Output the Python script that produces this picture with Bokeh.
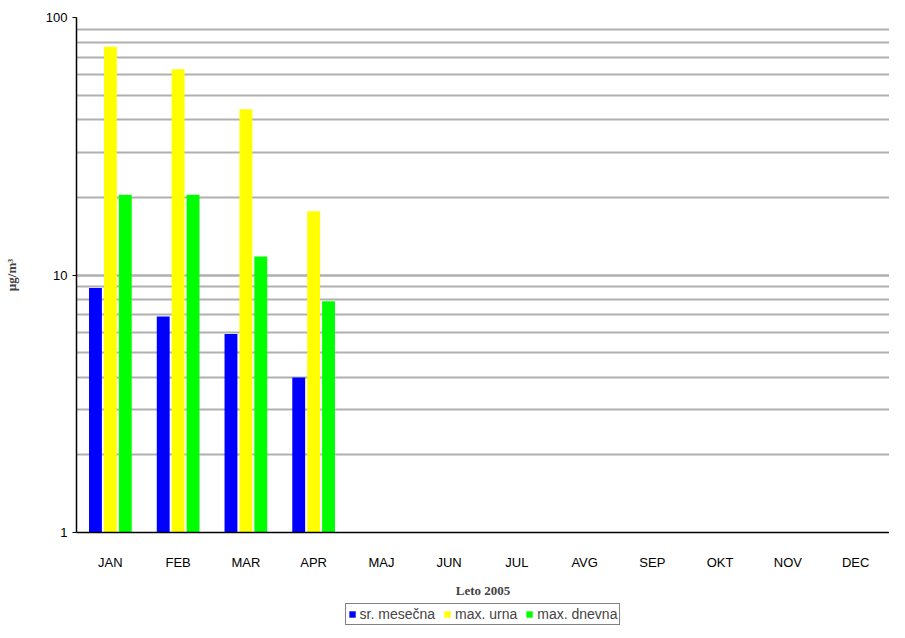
from bokeh.plotting import figure
from bokeh.layouts import column
from bokeh.models import ColumnDataSource, Legend, LegendItem, LogTicker, PrintfTickFormatter
from bokeh.transform import dodge
from bokeh.embed import file_html
from bokeh.resources import INLINE

months = ["JAN", "FEB", "MAR", "APR", "MAJ", "JUN", "JUL", "AVG", "SEP", "OKT", "NOV", "DEC"]
sr_mesecna = [8.9, 6.9, 5.9, 4.0]
max_urna = [77, 63, 44, 17.7]
max_dnevna = [20.5, 20.5, 11.8, 7.9]
series = ["sr. mesečna", "max. urna", "max. dnevna"]
colors = ["#0000ff", "#ffff00", "#00ff00"]

src = ColumnDataSource(dict(m=months[:4], a=sr_mesecna, b=max_urna, c=max_dnevna))

p = figure(width=889, height=600, x_range=months, y_range=(1, 100), y_axis_type="log",
           output_backend="svg", toolbar_location=None,
           min_border_left=64, min_border_top=17, min_border_right=0, min_border_bottom=67)
p.outline_line_color = None

p.vbar(x=dodge("m", -0.22, range=p.x_range), top="a", bottom=1, width=0.19, source=src,
       fill_color=colors[0], line_color=None)
p.vbar(x="m", top="b", bottom=1, width=0.19, source=src, fill_color=colors[1], line_color=None)
p.vbar(x=dodge("m", 0.22, range=p.x_range), top="c", bottom=1, width=0.19, source=src,
       fill_color=colors[2], line_color=None)

p.xgrid.grid_line_color = None
p.yaxis.ticker = LogTicker(num_minor_ticks=10)
p.yaxis.formatter = PrintfTickFormatter(format="%d")
p.ygrid.grid_line_color = "#b0b0b0"
p.ygrid.grid_line_width = 2
p.ygrid.minor_grid_line_color = "#b0b0b0"
p.ygrid.minor_grid_line_width = 2
p.ygrid.level = "underlay"

for ax in (p.xaxis[0], p.yaxis[0]):
    ax.axis_line_color = "black"
    ax.axis_line_width = 1.5
    ax.major_label_text_font = "Liberation Sans"
    ax.major_label_text_font_size = "13px"
    ax.major_label_text_color = "black"
    ax.axis_label_text_font = "Liberation Serif"
    ax.axis_label_text_font_style = "bold"
    ax.axis_label_text_font_size = "13px"
    ax.minor_tick_line_color = None
p.xaxis.major_tick_line_color = None
p.yaxis.major_tick_in = 0
p.yaxis.major_tick_out = 4
p.xaxis.major_label_standoff = 16
p.xaxis.axis_label = "Leto 2005"
p.xaxis.axis_label_standoff = 10
p.yaxis.axis_label = "µg/m³"
p.yaxis.axis_label_standoff = 24

# legend in its own strip below the chart
lf = figure(width=889, height=28, output_backend="svg", toolbar_location=None,
            min_border=0, x_range=(0, 1), y_range=(0, 1))
lf.axis.visible = False
lf.grid.visible = False
lf.outline_line_color = None
items = []
for name, col in zip(series, colors):
    r = lf.rect(x=[-5], y=[-5], width=1, height=1, fill_color=col, line_color=None)
    items.append(LegendItem(label=name, renderers=[r]))
legend = Legend(items=items, orientation="horizontal", location="center",
                label_text_font="Liberation Sans", label_text_font_size="14px",
                glyph_width=8, glyph_height=8, label_standoff=4, spacing=8,
                padding=2, margin=0, border_line_color="black", border_line_width=1,
                label_height=14)
lf.add_layout(legend)

open("out.html", "w").write(file_html(column(p, lf, spacing=0), INLINE))
